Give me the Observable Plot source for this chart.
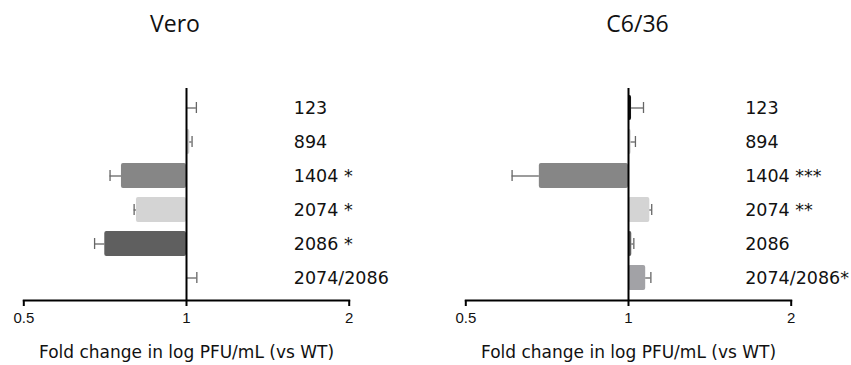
<!DOCTYPE html>
<html>
<head>
<meta charset="utf-8">
<script src="https://cdn.jsdelivr.net/npm/d3@7"></script>
<script src="https://cdn.jsdelivr.net/npm/@observablehq/plot@0.6"></script>
<style>
  html, body { margin: 0; padding: 0; background: #fff; }
  #root { position: relative; width: 851px; height: 365px; overflow: hidden; }
  .title { position: absolute; top: 11.5px; font-family: "Open Sans", sans-serif; font-size: 23px; line-height: 23px; color: #111; text-align: center; width: 120px; }
  .panel { position: absolute; top: 60px; }
</style>
</head>
<body>
<div id="root">
  <div class="title" style="left:115px;">Vero</div>
  <div class="title" style="left:577.5px;">C6/36</div>
  <div class="panel" id="left" style="left:0px;"></div>
  <div class="panel" id="right" style="left:441.7px;"></div>
</div>
<script>
const strains = ["123", "894", "1404", "2074", "2086", "2074/2086"];
const barColors = ["#111111", "#c9c9c9", "#868686", "#d4d4d4", "#5f5f5f", "#a2a2a6"];
const xTicks = [0.5, 1, 2];
const xLabel = "Fold change in log PFU/mL (vs WT)";

// Vero
const veroValue = [1.0, 1.014, 0.758, 0.808, 0.706, 1.0];
const veroErrEnd = [1.043, 1.024, 0.722, 0.800, 0.676, 1.045];
const veroSig = ["", "", " *", " *", " *", ""];

// C6/36
const c636Value = [1.013, 1.011, 0.684, 1.095, 1.014, 1.076];
const c636ErrEnd = [1.066, 1.030, 0.609, 1.104, 1.023, 1.100];
const c636Sig = ["", "", " ***", " **", "", "*"];

function panel(values, errEnd, sig, labelDx) {
  const data = strains.map((s, i) => ({
    strain: s, value: values[i], err: errEnd[i], label: s + sig[i], color: barColors[i], base: 1
  }));
  return Plot.plot({
    width: 409,
    height: 305,
    marginLeft: 23.3,
    marginRight: 60.3,
    marginTop: 28,
    marginBottom: 65,
    x: { type: "log", domain: [0.5, 2] },
    y: { domain: strains, paddingInner: 0.27, paddingOuter: 0, axis: null, insetTop: 5.4, insetBottom: 9.5 },
    color: { type: "identity" },
    style: { background: "#fff", overflow: "visible" },
    marks: [
      Plot.barX(data, { y: "strain", x1: "base", x2: "value", fill: "color", rx: 2 }),
      Plot.ruleY(data, { y: "strain", x1: "value", x2: "err", stroke: "#666", strokeWidth: 1.3 }),
      Plot.tickX(data, { y: "strain", x: "err", stroke: "#666", strokeWidth: 1.3, insetTop: 7, insetBottom: 7 }),
      Plot.ruleX([1], { stroke: "#000", strokeWidth: 2 }),
      Plot.frame({ anchor: "bottom", stroke: "#000", strokeWidth: 2 }),
      Plot.axisX({
        ticks: xTicks, tickSize: 6, tickFormat: () => "",
        stroke: "#000", strokeWidth: 2, strokeOpacity: 1, label: null
      }),
      Plot.text(xTicks, {
        x: d => d, text: d => String(d), frameAnchor: "bottom", dy: 18, textAnchor: "middle", lineAnchor: "middle",
        fontSize: 15, fontFamily: "Liberation Sans", fill: "#111"
      }),
      Plot.text([xLabel], {
        text: d => d, frameAnchor: "bottom", dy: 52, textAnchor: "middle", lineAnchor: "middle",
        fontSize: 17, fontFamily: "DejaVu Sans", fill: "#111"
      }),
      Plot.text(data, {
        y: "strain", text: "label", frameAnchor: "right", textAnchor: "start", dx: labelDx,
        fontSize: 17.5, fontFamily: "DejaVu Sans", fill: "#111"
      })
    ]
  });
}

document.getElementById("left").append(panel(veroValue, veroErrEnd, veroSig, -55.4));
document.getElementById("right").append(panel(c636Value, c636ErrEnd, c636Sig, -46));
</script>
</body>
</html>
